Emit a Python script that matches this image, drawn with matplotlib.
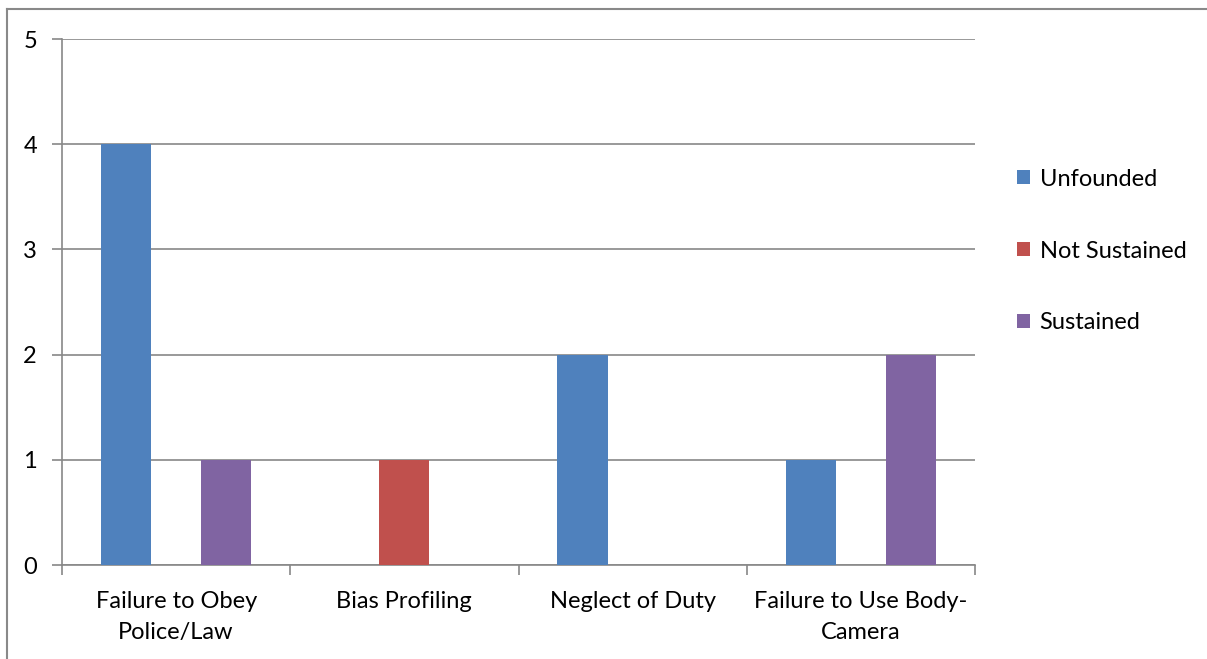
import matplotlib
matplotlib.use("Agg")
import matplotlib.pyplot as plt
from matplotlib.lines import Line2D
import numpy as np

categories = ["Failure to Obey\nPolice/Law", "Bias Profiling", "Neglect of Duty", "Failure to Use Body-\nCamera"]
series_names = ["Unfounded", "Not Sustained", "Sustained"]
unfounded = [4, 0, 2, 1]
not_sustained = [0, 1, 0, 0]
sustained = [1, 0, 0, 2]
colors = ["#4F81BD", "#C0504D", "#8064A2"]

plt.rcParams['font.family'] = ['Lato', 'DejaVu Sans']

fig = plt.figure(figsize=(12.07, 6.59), dpi=100)
W, H = 1207, 659
ax = fig.add_axes([62 / W, 1 - 565 / H, (975 - 62) / W, (565 - 39) / H])

# figure border (left and top edges only visible)
bx, by = 7 / W, 1 - 9 / H
fig.add_artist(Line2D([bx, bx], [0, by], transform=fig.transFigure, color="#898989", linewidth=1.5))
fig.add_artist(Line2D([bx, 1], [by, by], transform=fig.transFigure, color="#898989", linewidth=1.5))

x = np.arange(len(categories))
w = 0.22
series = [unfounded, not_sustained, sustained]
for i, (vals, name, c) in enumerate(zip(series, series_names, colors)):
    ax.bar(x + (i - 1) * w, vals, width=w, color=c, label=name, zorder=3)

ax.set_xlim(-0.5, len(categories) - 0.5)
ax.set_ylim(0, 5)
ax.set_yticks(range(0, 6))
ax.yaxis.grid(True, color="#888888", linewidth=1.2, zorder=0)
ax.set_axisbelow(True)

ax.set_xticks(np.arange(-0.5, len(categories)), labels=[""] * (len(categories) + 1))
ax.set_xticks(x, labels=categories, minor=True)
ax.tick_params(axis="x", which="major", length=7, width=1.2, color="#888888", direction="out")
ax.tick_params(axis="x", which="minor", length=0, pad=19, labelsize=17)
ax.tick_params(axis="y", length=7, width=1.2, color="#888888", pad=11, labelsize=17)
for lab in ax.get_xticklabels(minor=True):
    lab.set_linespacing(1.55)

for s in ["top", "right"]:
    ax.spines[s].set_visible(False)
for s in ["left", "bottom"]:
    ax.spines[s].set_color("#888888")
    ax.spines[s].set_linewidth(1.2)

leg = fig.legend(loc="center left", bbox_to_anchor=(996 / W, 1 - 251 / H), frameon=False,
                 fontsize=17, handlelength=0.55, handleheight=0.55, handletextpad=0.4,
                 labelspacing=2.15)

fig.savefig("out.png", dpi=100)
